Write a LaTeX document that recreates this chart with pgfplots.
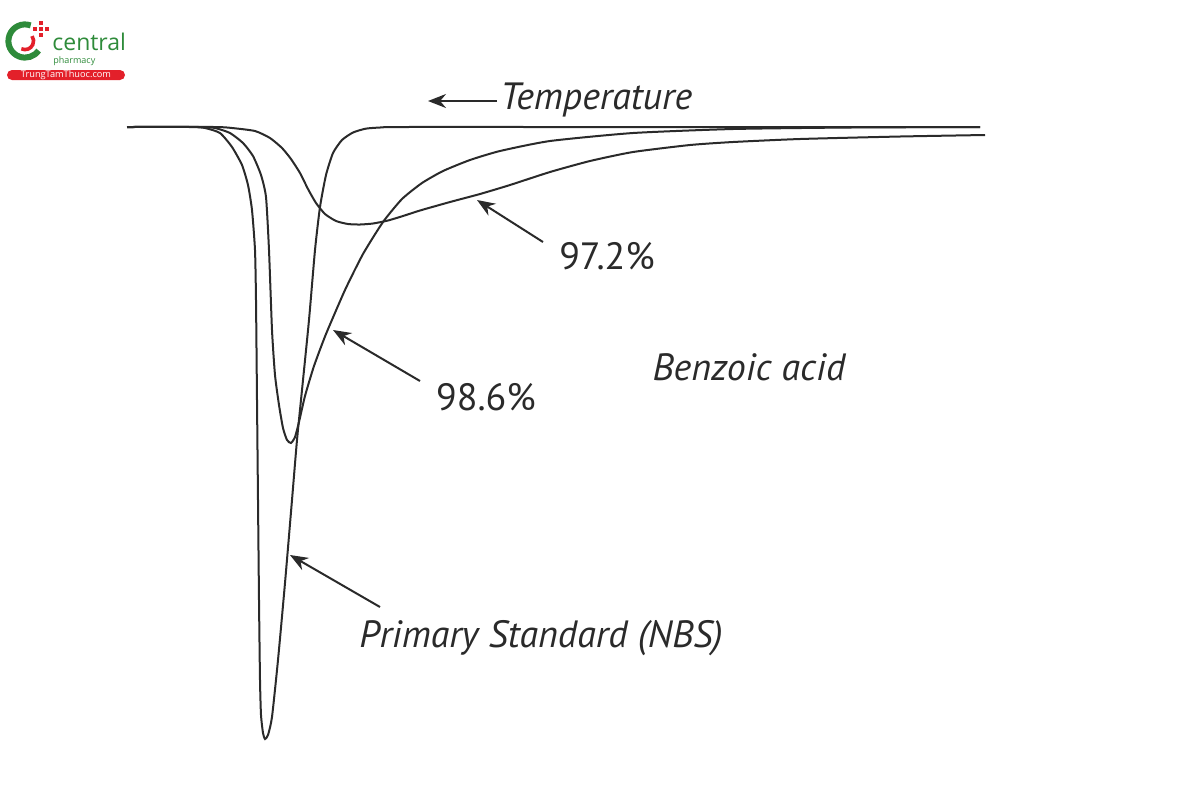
\documentclass[border=0pt]{standalone}
\usepackage{pgfplots}
\pgfplotsset{compat=1.18}
\usetikzlibrary{arrows.meta}
\usepackage{fontspec}
\setmainfont{PT Sans}
\newfontfamily\logofont{Open Sans}
\definecolor{curve}{HTML}{2A2A2A}
\definecolor{lgreen}{HTML}{2E8B3A}
\definecolor{lred}{HTML}{E3202A}

\pgfplotstableread{
x y
127 127
190 127
205 128
220 133
232 147
242 165
248 185
252 210
255 250
256 300
257 400
258 500
259 600
260 680
261 715
263 733
265 739
268 735
272 717
278 660
285 583
292 500
297 440
302 390
309 320
315 250
320 207
326 175
333 153
342 140
353 132.5
366 128.6
382 127.4
400 127
600 127
980 127
}\nbs

\pgfplotstableread{
x y
127 127
200 127
215 128
230 133
243 143
253 156
261 175
266 197
269 250
272 330
275 375
279 405
283 428
287 440
291 443
295 437
299 422
305 396
314 366
326 334
345 290
363 254
383 222
402 199
422 183
443 171
470 160
500 151
550 141
633 133
733 129
850 127.5
980 127
}\pa

\pgfplotstableread{
x y
127 127
215 127
232 128
255 131
270 138
282 148
291 159
300 173
308 189
316 203
325 214
336 221
348 224
360 224.5
373 223.5
388 220.5
403 216
420 210.5
450 202
480 194
510 185
550 172
590 161
633 152
690 145
733 142
800 139
900 136.5
985 135
}\pb

\begin{document}
\begin{tikzpicture}
\begin{axis}[hide axis, scale only axis, width=600pt, height=400pt,
  xmin=0, xmax=1200, ymin=0, ymax=800, y dir=reverse, clip=false]
\path (axis cs:0,0) rectangle (axis cs:1200,800);

\addplot[curve, line width=1pt, smooth, tension=0.35] table {\nbs};
\addplot[curve, line width=1pt, smooth, tension=0.35] table {\pa};
\addplot[curve, line width=1pt, smooth, tension=0.35] table {\pb};

% arrows
\draw[curve, line width=1pt, -{Stealth[length=9pt,width=7pt]}] (axis cs:497,101) -- (axis cs:428,101);
\draw[curve, line width=1pt, -{Stealth[length=9pt,width=7pt]}] (axis cs:543,242) -- (axis cs:477,200);
\draw[curve, line width=1pt, -{Stealth[length=9pt,width=7pt]}] (axis cs:420,381) -- (axis cs:333,330);
\draw[curve, line width=1pt, -{Stealth[length=9pt,width=7pt]}] (axis cs:380,607) -- (axis cs:290,555);

% labels
\node[anchor=west, inner sep=0pt, text=curve, font=\fontsize{19}{21}\selectfont\itshape] at (axis cs:500,100) {Temperature};
\node[anchor=center, inner sep=0pt, text=curve, font=\fontsize{19}{21}\selectfont] at (axis cs:607,256) {97.2\%};
\node[anchor=center, inner sep=0pt, text=curve, font=\fontsize{19}{21}\selectfont] at (axis cs:486,397) {98.6\%};
\node[anchor=center, inner sep=0pt, text=curve, font=\fontsize{19}{21}\selectfont\itshape] at (axis cs:749,367) {Benzoic acid};
\node[anchor=center, inner sep=0pt, text=curve, font=\fontsize{19}{21}\selectfont\itshape] at (axis cs:541,638) {Primary Standard (NBS)};

% logo
\draw[lgreen, line width=3pt] ([shift={(70:8.3pt)}]axis cs:25,41) arc[start angle=70, end angle=325, radius=8.3pt];
\draw[lred, line width=1.8pt] ([shift={(-115:4.3pt)}]axis cs:25,41) arc[start angle=-115, end angle=35, radius=4.3pt];
\fill[lred] (axis cs:39,27) rectangle (axis cs:43,31);
\fill[lred] (axis cs:39,21) rectangle (axis cs:43,25);
\fill[lred] (axis cs:39,33) rectangle (axis cs:43,37);
\fill[lred] (axis cs:33,27) rectangle (axis cs:37,31);
\fill[lred] (axis cs:45,27) rectangle (axis cs:49,31);
\node[anchor=base west, inner sep=0pt, text=lgreen, font=\logofont\fontsize{11.5}{12}\selectfont] at (axis cs:52,50) {central};
\node[anchor=base west, inner sep=0pt, text=lgreen, font=\logofont\fontsize{4.5}{5}\selectfont] at (axis cs:53,63) {pharmacy};
\fill[lred, rounded corners=2.5pt] (axis cs:7,70) rectangle (axis cs:125,80);
\node[anchor=center, inner sep=0pt, text=white, font=\logofont\fontsize{4.6}{5}\selectfont] at (axis cs:66,75.5) {TrungTamThuoc.com};
\end{axis}
\end{tikzpicture}
\end{document}
